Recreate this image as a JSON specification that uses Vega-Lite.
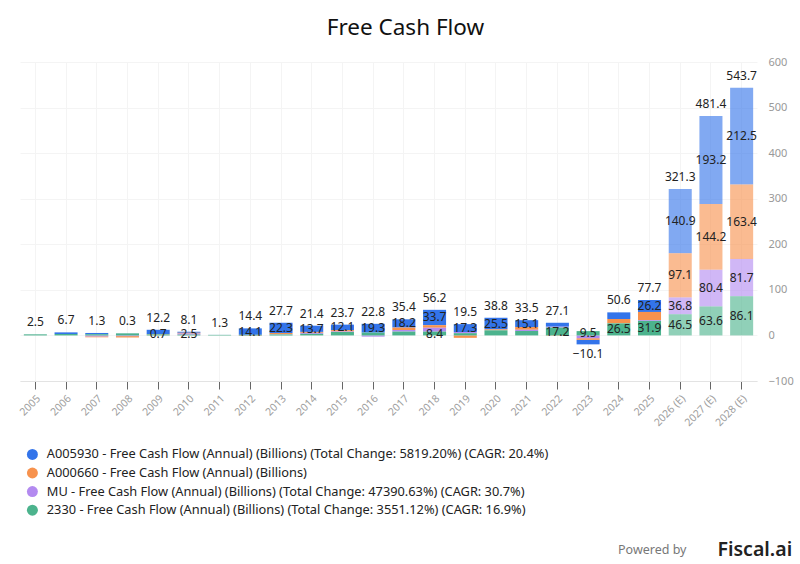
{
  "$schema": "https://vega.github.io/schema/vega-lite/v6.json",
  "width": 737,
  "height": 319,
  "autosize": {"type": "none"},
  "padding": {"left": 20, "top": 62, "right": 43, "bottom": 183},
  "background": "white",
  "title": {"text": "Free Cash Flow", "font": "Noto Sans", "fontSize": 22.5, "fontWeight": "normal", "color": "#111", "anchor": "middle", "dx": 17, "dy": 9, "offset": 8, "baseline": "alphabetic"},
  "config": {"view": {"stroke": null}, "font": "Noto Sans"},
  "datasets": {
    "series": [
      {"code": "A005930", "name": "A005930 - Free Cash Flow (Annual) (Billions) (Total Change: 5819.20%) (CAGR: 20.4%)", "stackOrder": 4},
      {"code": "A000660", "name": "A000660 - Free Cash Flow (Annual) (Billions)", "stackOrder": 3},
      {"code": "MU", "name": "MU - Free Cash Flow (Annual) (Billions) (Total Change: 47390.63%) (CAGR: 30.7%)", "stackOrder": 2},
      {"code": "2330", "name": "2330 - Free Cash Flow (Annual) (Billions) (Total Change: 3551.12%) (CAGR: 16.9%)", "stackOrder": 1}
    ],
    "fcf": [
      {"year": "2005", "code": "MU", "value": 0.17},
      {"year": "2005", "code": "2330", "value": 2.36},
      {"year": "2006", "code": "A005930", "value": 3.6},
      {"year": "2006", "code": "2330", "value": 3.1},
      {"year": "2007", "code": "A005930", "value": 2.7},
      {"year": "2007", "code": "A000660", "value": -2.0},
      {"year": "2007", "code": "MU", "value": -2.1},
      {"year": "2007", "code": "2330", "value": 2.7},
      {"year": "2008", "code": "A005930", "value": 0.3},
      {"year": "2008", "code": "A000660", "value": -3.0},
      {"year": "2008", "code": "MU", "value": -1.5},
      {"year": "2008", "code": "2330", "value": 4.5},
      {"year": "2009", "code": "A005930", "value": 9.5},
      {"year": "2009", "code": "A000660", "value": 0.7, "lbl": true},
      {"year": "2009", "code": "MU", "value": -0.2},
      {"year": "2009", "code": "2330", "value": 2.2},
      {"year": "2010", "code": "A005930", "value": 2.3},
      {"year": "2010", "code": "A000660", "value": 1.6},
      {"year": "2010", "code": "MU", "value": 2.5, "lbl": true},
      {"year": "2010", "code": "2330", "value": 1.7},
      {"year": "2011", "code": "A005930", "value": 0.1},
      {"year": "2011", "code": "2330", "value": 1.2},
      {"year": "2012", "code": "A005930", "value": 14.1, "lbl": true},
      {"year": "2012", "code": "A000660", "value": -0.8},
      {"year": "2012", "code": "MU", "value": -0.3},
      {"year": "2012", "code": "2330", "value": 1.4},
      {"year": "2013", "code": "A005930", "value": 22.3, "lbl": true},
      {"year": "2013", "code": "A000660", "value": 2.8},
      {"year": "2013", "code": "MU", "value": 0.5},
      {"year": "2013", "code": "2330", "value": 2.1},
      {"year": "2014", "code": "A005930", "value": 13.7, "lbl": true},
      {"year": "2014", "code": "A000660", "value": 2.0},
      {"year": "2014", "code": "MU", "value": 2.2},
      {"year": "2014", "code": "2330", "value": 3.5},
      {"year": "2015", "code": "A005930", "value": 12.1, "lbl": true},
      {"year": "2015", "code": "A000660", "value": 3.0},
      {"year": "2015", "code": "MU", "value": 1.1},
      {"year": "2015", "code": "2330", "value": 7.5},
      {"year": "2016", "code": "A005930", "value": 19.3, "lbl": true},
      {"year": "2016", "code": "A000660", "value": -0.1},
      {"year": "2016", "code": "MU", "value": -2.6},
      {"year": "2016", "code": "2330", "value": 6.2},
      {"year": "2017", "code": "A005930", "value": 18.2, "lbl": true},
      {"year": "2017", "code": "A000660", "value": 5.3},
      {"year": "2017", "code": "MU", "value": 3.5},
      {"year": "2017", "code": "2330", "value": 8.4},
      {"year": "2018", "code": "A005930", "value": 33.7, "lbl": true},
      {"year": "2018", "code": "A000660", "value": 5.6},
      {"year": "2018", "code": "MU", "value": 8.5},
      {"year": "2018", "code": "2330", "value": 8.4, "lbl": true},
      {"year": "2019", "code": "A005930", "value": 17.3, "lbl": true},
      {"year": "2019", "code": "A000660", "value": -5.3},
      {"year": "2019", "code": "MU", "value": 2.5},
      {"year": "2019", "code": "2330", "value": 5.0},
      {"year": "2020", "code": "A005930", "value": 25.5, "lbl": true},
      {"year": "2020", "code": "A000660", "value": 2.0},
      {"year": "2020", "code": "MU", "value": 0.1},
      {"year": "2020", "code": "2330", "value": 11.2},
      {"year": "2021", "code": "A005930", "value": 15.1, "lbl": true},
      {"year": "2021", "code": "A000660", "value": 6.0},
      {"year": "2021", "code": "MU", "value": 2.6},
      {"year": "2021", "code": "2330", "value": 9.8},
      {"year": "2022", "code": "A005930", "value": 8.7},
      {"year": "2022", "code": "A000660", "value": -0.7},
      {"year": "2022", "code": "MU", "value": 1.9},
      {"year": "2022", "code": "2330", "value": 17.2, "lbl": true},
      {"year": "2023", "code": "A005930", "value": -10.0},
      {"year": "2023", "code": "A000660", "value": -3.5},
      {"year": "2023", "code": "MU", "value": -6.1},
      {"year": "2023", "code": "2330", "value": 9.5, "lbl": true},
      {"year": "2024", "code": "A005930", "value": 14.5},
      {"year": "2024", "code": "A000660", "value": 9.5},
      {"year": "2024", "code": "MU", "value": 0.1},
      {"year": "2024", "code": "2330", "value": 26.5, "lbl": true},
      {"year": "2025", "code": "A005930", "value": 26.2, "lbl": true},
      {"year": "2025", "code": "A000660", "value": 17.9},
      {"year": "2025", "code": "MU", "value": 1.7},
      {"year": "2025", "code": "2330", "value": 31.9, "lbl": true},
      {"year": "2026 (E)", "code": "A005930", "value": 140.9, "lbl": true},
      {"year": "2026 (E)", "code": "A000660", "value": 97.1, "lbl": true},
      {"year": "2026 (E)", "code": "MU", "value": 36.8, "lbl": true},
      {"year": "2026 (E)", "code": "2330", "value": 46.5, "lbl": true},
      {"year": "2027 (E)", "code": "A005930", "value": 193.2, "lbl": true},
      {"year": "2027 (E)", "code": "A000660", "value": 144.2, "lbl": true},
      {"year": "2027 (E)", "code": "MU", "value": 80.4, "lbl": true},
      {"year": "2027 (E)", "code": "2330", "value": 63.6, "lbl": true},
      {"year": "2028 (E)", "code": "A005930", "value": 212.5, "lbl": true},
      {"year": "2028 (E)", "code": "A000660", "value": 163.4, "lbl": true},
      {"year": "2028 (E)", "code": "MU", "value": 81.7, "lbl": true},
      {"year": "2028 (E)", "code": "2330", "value": 86.1, "lbl": true}
    ]
  },
  "data": {"name": "fcf"},
  "transform": [
    {"lookup": "code", "from": {"data": {"name": "series"}, "key": "code", "fields": ["name", "stackOrder"]}}
  ],
  "encoding": {
    "x": {
      "field": "year",
      "type": "nominal",
      "scale": {
        "domain": ["2005", "2006", "2007", "2008", "2009", "2010", "2011", "2012", "2013", "2014", "2015", "2016", "2017", "2018", "2019", "2020", "2021", "2022", "2023", "2024", "2025", "2026 (E)", "2027 (E)", "2028 (E)"],
        "paddingInner": 0.25,
        "paddingOuter": 0.125
      },
      "axis": {
        "labelAngle": -45,
        "labelColor": "#a0a0a0",
        "labelFontSize": 10.5,
        "labelPadding": 4,
        "tickColor": "#666",
        "tickSize": 8,
        "domainColor": "#e3e3e3",
        "grid": true,
        "gridColor": "#f4f4f4",
        "title": "Powered by",
        "titleX": 666,
        "titleY": 168,
        "titleAlign": "right",
        "titleBaseline": "middle",
        "titleFontSize": 12.5,
        "titleFontWeight": "normal",
        "titleColor": "#777"
      }
    },
    "y": {
      "field": "value",
      "type": "quantitative",
      "scale": {"domain": [-100, 600]},
      "axis": {
        "orient": "right",
        "values": [-100, 0, 100, 200, 300, 400, 500, 600],
        "domain": false,
        "ticks": false,
        "labelColor": "#999",
        "labelFontSize": 11,
        "labelPadding": 11,
        "gridColor": "#f4f4f4",
        "title": "Fiscal.ai",
        "titleAngle": 0,
        "titleX": -40,
        "titleY": 487,
        "titleAlign": "left",
        "titleBaseline": "middle",
        "titleFontSize": 19.5,
        "titleFontWeight": 600,
        "titleColor": "#222"
      }
    }
  },
  "layer": [
    {
      "mark": {"type": "bar"},
      "encoding": {
        "y": {"field": "value", "type": "quantitative", "stack": "zero"},
        "color": {
          "field": "name",
          "type": "nominal",
          "scale": {
            "domain": [
              "A005930 - Free Cash Flow (Annual) (Billions) (Total Change: 5819.20%) (CAGR: 20.4%)",
              "A000660 - Free Cash Flow (Annual) (Billions)",
              "MU - Free Cash Flow (Annual) (Billions) (Total Change: 47390.63%) (CAGR: 30.7%)",
              "2330 - Free Cash Flow (Annual) (Billions) (Total Change: 3551.12%) (CAGR: 16.9%)"
            ],
            "range": ["#3374ea", "#f7924d", "#b38af0", "#4cb38d"]
          },
          "legend": {
            "orient": "none",
            "legendX": 6,
            "legendY": 386,
            "direction": "vertical",
            "title": null,
            "symbolType": "circle",
            "symbolSize": 120,
            "symbolStrokeWidth": 0,
            "labelFontSize": 12.8,
            "labelColor": "#222",
            "labelLimit": 700,
            "labelOffset": 8,
            "rowPadding": 4.6
          }
        },
        "order": {"field": "stackOrder", "type": "quantitative"},
        "fillOpacity": {"condition": {"test": "indexof(datum.year, 'E') >= 0", "value": 0.62}, "value": 1}
      }
    },
    {
      "mark": {"type": "text", "fontSize": 12, "color": "#222"},
      "encoding": {
        "y": {"field": "value", "type": "quantitative", "stack": "zero", "bandPosition": 0.5},
        "detail": {"field": "name"},
        "order": {"field": "stackOrder", "type": "quantitative"},
        "text": {"condition": {"test": "datum.lbl", "field": "value", "type": "quantitative", "format": ".1f"}, "value": ""}
      }
    },
    {
      "transform": [
        {"joinaggregate": [{"op": "sum", "field": "value", "as": "total"}], "groupby": ["year"]},
        {"filter": "datum.total >= 0 ? datum.value > 0 : datum.value < 0"},
        {"aggregate": [{"op": "sum", "field": "value", "as": "value"}, {"op": "max", "field": "total", "as": "total"}], "groupby": ["year"]},
        {"filter": "datum.total >= 0"}
      ],
      "mark": {"type": "text", "fontSize": 12, "color": "#222", "baseline": "bottom", "dy": -5},
      "encoding": {
        "y": {"field": "value", "type": "quantitative", "stack": null},
        "text": {"field": "total", "type": "quantitative", "format": ".1f"}
      }
    },
    {
      "transform": [
        {"joinaggregate": [{"op": "sum", "field": "value", "as": "total"}], "groupby": ["year"]},
        {"filter": "datum.total >= 0 ? datum.value > 0 : datum.value < 0"},
        {"aggregate": [{"op": "sum", "field": "value", "as": "value"}, {"op": "max", "field": "total", "as": "total"}], "groupby": ["year"]},
        {"filter": "datum.total < 0"}
      ],
      "mark": {"type": "text", "fontSize": 12, "color": "#222", "baseline": "top", "dy": 5},
      "encoding": {
        "y": {"field": "value", "type": "quantitative", "stack": null},
        "text": {"field": "total", "type": "quantitative", "format": ".1f"}
      }
    }
  ]
}
